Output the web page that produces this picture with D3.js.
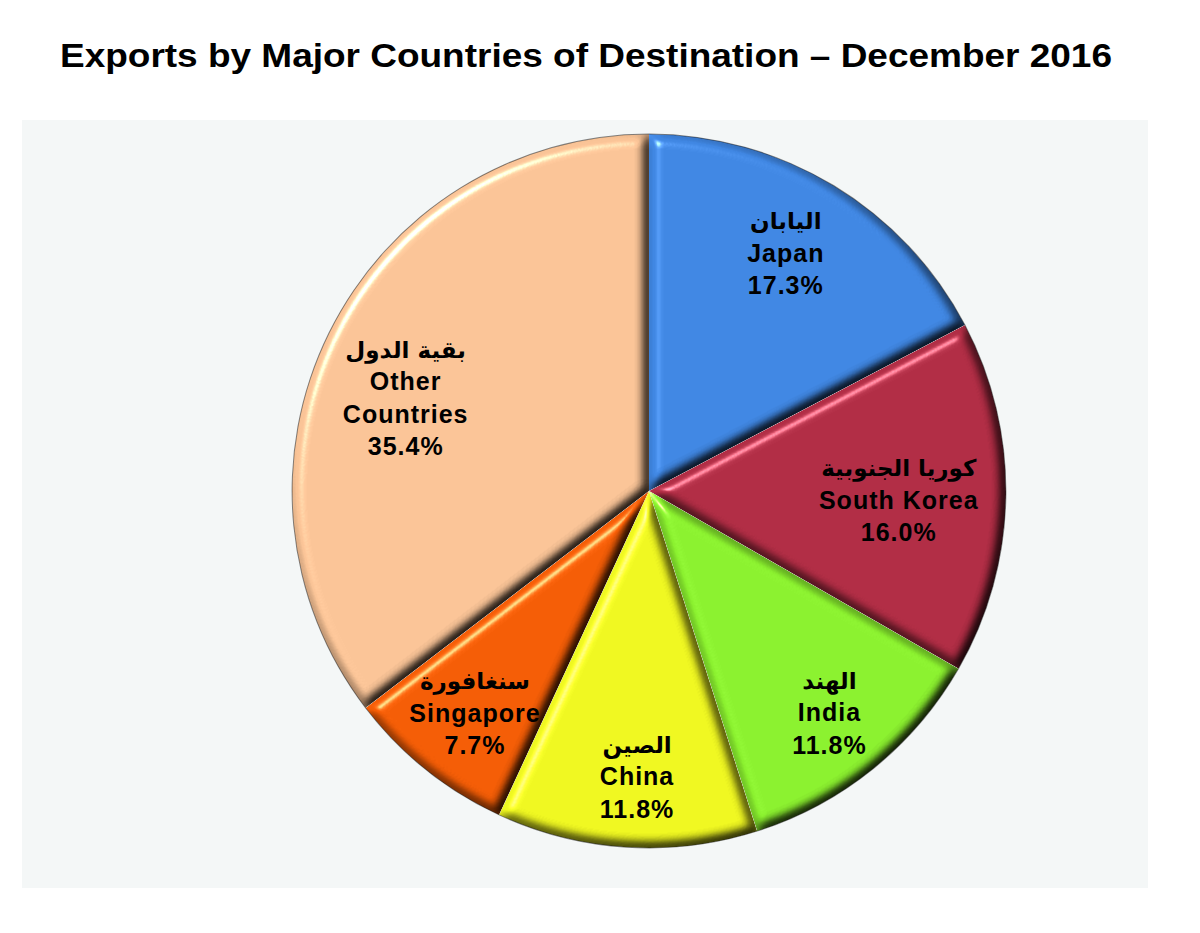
<!DOCTYPE html>
<html>
<head>
<meta charset="utf-8">
<script src="https://cdn.jsdelivr.net/npm/d3@7"></script>
<style>
  html, body { margin: 0; padding: 0; background: #ffffff; }
  svg { display: block; }
</style>
</head>
<body>
<svg id="chart" width="1200" height="933"></svg>
<script>
// ---- data ----
const categories = ["Japan", "South Korea", "India", "China", "Singapore", "Other Countries"];
const arabicNames = ["اليابان", "كوريا الجنوبية", "الهند", "الصين", "سنغافورة", "بقية الدول"];
const englishLines = [["Japan"], ["South Korea"], ["India"], ["China"], ["Singapore"], ["Other", "Countries"]];
const shares = [17.3, 16.0, 11.8, 11.8, 7.7, 35.4];
const sliceColors = ["#3f86e2", "#b02c44", "#8af02e", "#eef620", "#f35c05", "#f9c396"];
// label placement: distance from centre (fraction of radius) and angle shift (degrees)
const labelRadiusFactor = [0.77, 0.70, 0.80, 0.80, 0.79, 0.73];
const labelAngleShift = [-1.3, 0.9, -0.3, -1.2, -0.6, -5.3];

const titleText = "Exports by Major Countries of Destination \u2013 December 2016";

const svg = d3.select("#chart");

// background panel
svg.append("rect").attr("x", 22).attr("y", 120).attr("width", 1126).attr("height", 768)
  .attr("fill", "#f4f7f7");

// title
svg.append("text")
  .attr("x", 586).attr("y", 67)
  .attr("text-anchor", "middle")
  .attr("font-family", "Liberation Sans, Arial, sans-serif")
  .attr("font-weight", "bold")
  .attr("font-size", 34)
  .attr("textLength", 1052)
  .attr("lengthAdjust", "spacingAndGlyphs")
  .attr("fill", "#000")
  .text(titleText);

// bevel filter
const defs = svg.append("defs");
const f = defs.append("filter").attr("id", "bevel")
  .attr("x", "-5%").attr("y", "-5%").attr("width", "110%").attr("height", "110%")
  .attr("color-interpolation-filters", "sRGB");
f.append("feGaussianBlur").attr("in", "SourceAlpha").attr("stdDeviation", 6).attr("result", "blur");
f.append("feDiffuseLighting").attr("in", "blur").attr("surfaceScale", 9)
  .attr("diffuseConstant", 1.155).attr("lighting-color", "#ffffff").attr("result", "diff")
  .append("feDistantLight").attr("azimuth", 225).attr("elevation", 60);
f.append("feComposite").attr("in", "SourceGraphic").attr("in2", "diff")
  .attr("operator", "arithmetic").attr("k1", 1).attr("k2", 0).attr("k3", 0).attr("k4", 0)
  .attr("result", "shaded");
f.append("feSpecularLighting").attr("in", "blur").attr("surfaceScale", 9)
  .attr("specularConstant", 0.9).attr("specularExponent", 40).attr("lighting-color", "#ffffff")
  .attr("result", "spec")
  .append("feDistantLight").attr("azimuth", 225).attr("elevation", 40);
f.append("feComposite").attr("in", "spec").attr("in2", "SourceAlpha").attr("operator", "in").attr("result", "specIn");
f.append("feComposite").attr("in", "shaded").attr("in2", "specIn")
  .attr("operator", "arithmetic").attr("k1", 0).attr("k2", 1).attr("k3", 0.6).attr("k4", 0)
  .attr("result", "lit");
f.append("feComposite").attr("in", "lit").attr("in2", "SourceAlpha").attr("operator", "in");

// pie
const cx = 649, cy = 491, R = 357;
const data = categories.map((c, i) => ({
  name: c, ar: arabicNames[i], lines: englishLines[i], value: shares[i],
  color: sliceColors[i], lf: labelRadiusFactor[i], ls: labelAngleShift[i]
}));
const pie = d3.pie().value(d => d.value).sort(null);
const arcs = pie(data);
const arc = d3.arc().innerRadius(0).outerRadius(R);

const g = svg.append("g").attr("transform", `translate(${cx},${cy})`);
g.selectAll("path.slice").data(arcs).enter().append("path")
  .attr("class", "slice")
  .attr("d", arc)
  .attr("fill", d => d.data.color)
  .attr("filter", "url(#bevel)");

// thin outer rim outline
g.selectAll("path.rim").data(arcs).enter().append("path")
  .attr("class", "rim")
  .attr("d", d => d3.arc().innerRadius(R - 0.6).outerRadius(R + 0.4)(d))
  .attr("fill", "#222").attr("opacity", 0.55);

// labels
const fmt = d3.format(".1f");
const lab = g.selectAll("g.lab").data(arcs).enter().append("g").attr("class", "lab")
  .attr("transform", d => {
    const a = (d.startAngle + d.endAngle) / 2 + d.data.ls * Math.PI / 180;
    const r = R * d.data.lf;
    return `translate(${r * Math.sin(a)},${-r * Math.cos(a)})`;
  });

lab.each(function(d) {
  const sel = d3.select(this);
  const lines = [{ t: d.data.ar, ar: true }]
    .concat(d.data.lines.map(t => ({ t, ar: false })), [{ t: fmt(d.data.value) + "%", ar: false }]);
  const step = 32.5;
  const n = lines.length;
  lines.forEach((ln, i) => {
    sel.append("text")
      .attr("x", 0)
      .attr("y", (i - (n - 1) / 2) * step + 9)
      .attr("text-anchor", "middle")
      .attr("font-family", ln.ar ? "DejaVu Sans, sans-serif" : "Liberation Sans, Arial, sans-serif")
      .attr("font-weight", "bold")
      .attr("font-size", ln.ar ? 23 : 25)
      .attr("letter-spacing", ln.ar ? 0 : 1)
      .attr("direction", ln.ar ? "rtl" : "ltr")
      .attr("fill", "#000")
      .text(ln.t);
  });
});
</script>
</body>
</html>
